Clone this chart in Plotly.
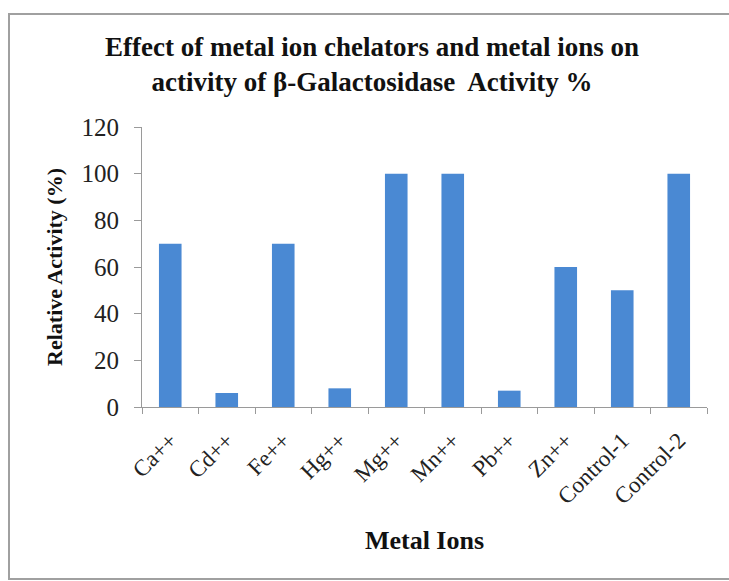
import plotly.graph_objects as go

categories = ["Ca++", "Cd++", "Fe++", "Hg++", "Mg++", "Mn++", "Pb++", "Zn++", "Control-1", "Control-2"]
activity = [70, 6, 70, 8, 100, 100, 7, 60, 50, 100]
y_ticks = [0, 20, 40, 60, 80, 100, 120]

W, H = 729, 581
L, R, T, B = 142, 22, 127, 174
pw, ph = W - L - R, H - T - B

def px_x(p):
    return (p - L) / pw

def px_y(p):
    return (H - B - p) / ph

serif = "Liberation Serif, Times New Roman, serif"

fig = go.Figure(go.Bar(x=categories, y=activity, marker=dict(color="#4A89D3", line=dict(width=0))))

fig.update_layout(
    width=W, height=H,
    margin=dict(l=L, r=R, t=T, b=B),
    paper_bgcolor="white", plot_bgcolor="white",
    bargap=0.6,
    showlegend=False,
    font=dict(family=serif, color="#222222"),
    title=dict(
        text="<b>Effect of metal ion chelators and metal ions on<br>activity of β-Galactosidase  Activity %</b>",
        xref="container", x=372 / W, xanchor="center",
        yref="container", y=1 - 56 / H, yanchor="middle",
        font=dict(family=serif, size=27, color="#111111"),
    ),
    xaxis=dict(
        type="category",
        tickangle=-45,
        tickfont=dict(family=serif, size=23, color="#222222"),
        showline=True, linecolor="#9a9a9a", linewidth=1,
        ticks="outside", tickson="boundaries", ticklen=6, tickcolor="#9a9a9a",
        ticklabelstandoff=10,
        showgrid=False,
        title=dict(text="<b>Metal Ions</b>", font=dict(family=serif, size=26, color="#111111"), standoff=22),
    ),
    yaxis=dict(
        range=[0, 120],
        tickvals=y_ticks,
        tickfont=dict(family=serif, size=25, color="#222222"),
        showline=True, linecolor="#9a9a9a", linewidth=1,
        ticks="outside", ticklen=7, tickcolor="#9a9a9a",
        ticklabelstandoff=10,
        showgrid=False, zeroline=False,
        title=dict(text="<b>Relative Activity (%)</b>", font=dict(family=serif, size=22, color="#111111"), standoff=12),
    ),
)

fig.add_shape(
    type="rect", xref="paper", yref="paper",
    x0=px_x(9), x1=px_x(760), y0=px_y(579), y1=px_y(14),
    line=dict(color="#a0a0a0", width=2), fillcolor="rgba(0,0,0,0)", layer="below",
)

fig.write_html(
    "out.html",
    config={"displayModeBar": False},
    post_script="document.body.style.margin='0';document.body.style.overflow='hidden';",
)
